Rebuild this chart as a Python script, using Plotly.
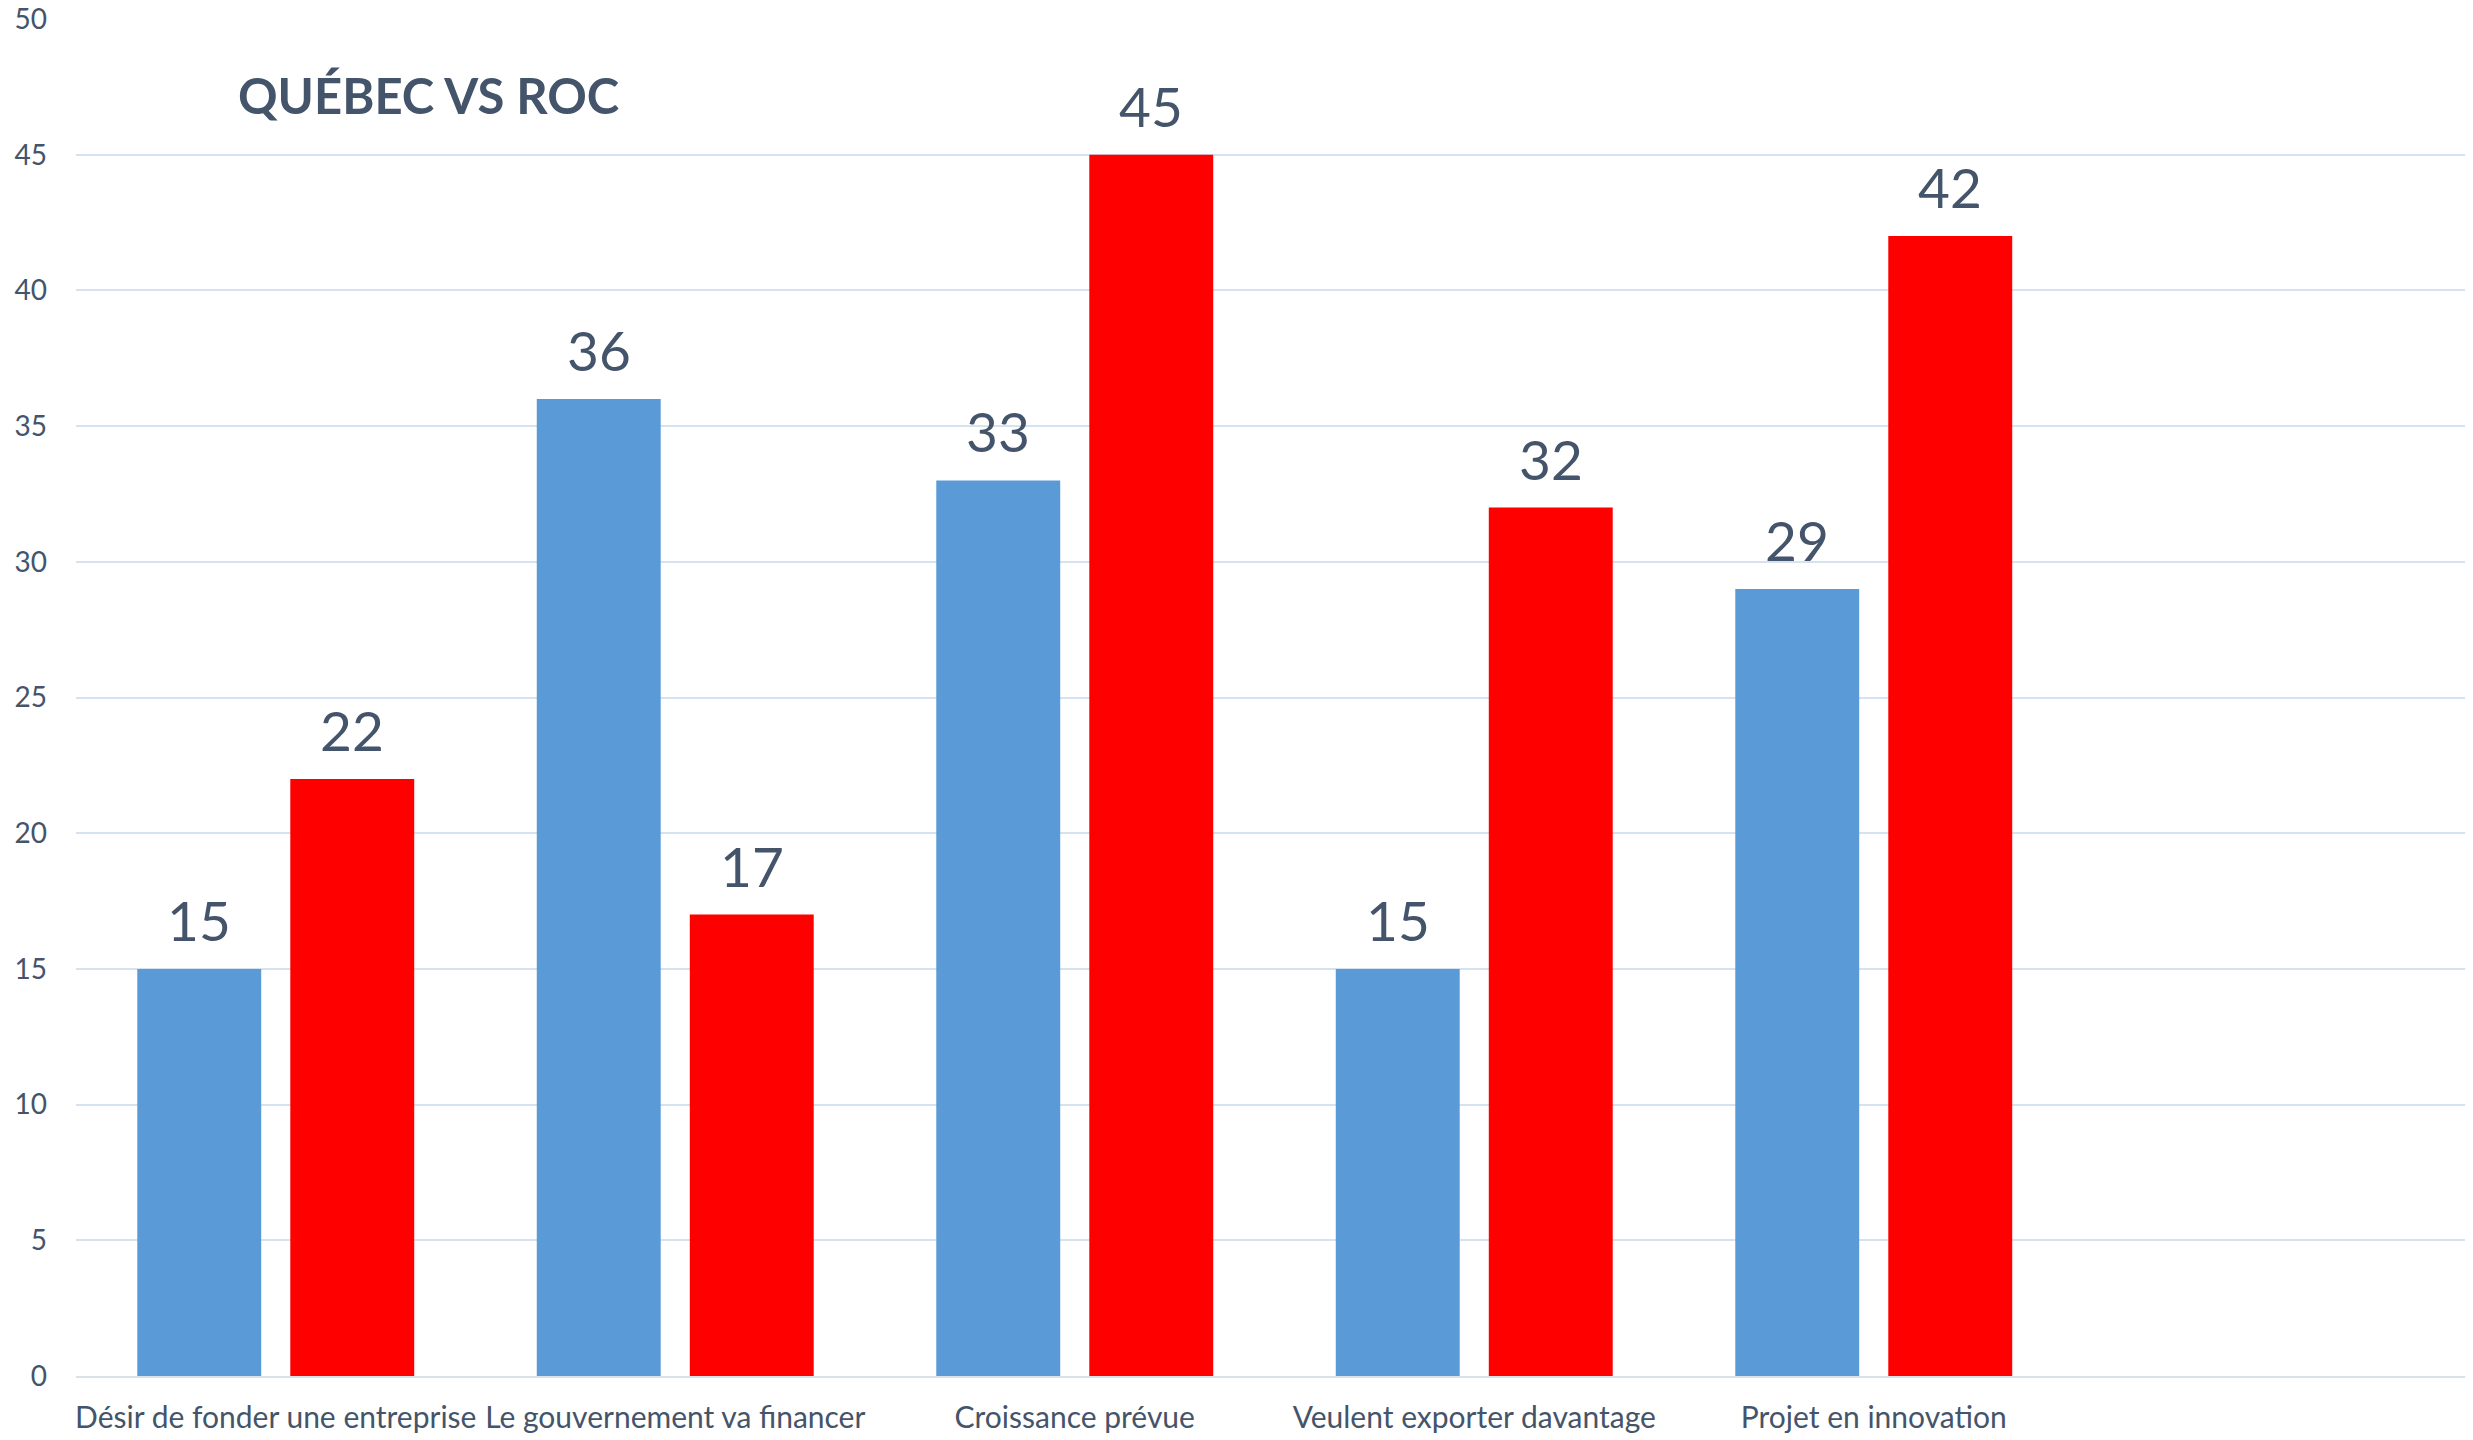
import plotly.graph_objects as go

categories = [
    "Désir de fonder une entreprise",
    "Le gouvernement va financer",
    "Croissance prévue",
    "Veulent exporter davantage",
    "Projet en innovation",
]
quebec = [15, 36, 33, 15, 29]
roc = [22, 17, 45, 32, 42]
y_ticks = [0, 5, 10, 15, 20, 25, 30, 35, 40, 45, 50]
title_text = "QUÉBEC VS ROC"

TEXT = "#44546a"
FONT = "Lato"
W, H = 2465, 1432          # page has an 8px body margin
BAR_OFFSET = 76.5          # px from category centre to each bar centre

fig = go.Figure()
fig.add_trace(go.Bar(
    x=categories, y=quebec, name="Québec",
    marker=dict(color="#5a9ad7", line=dict(width=0)),
))
fig.add_trace(go.Bar(
    x=categories, y=roc, name="ROC",
    marker=dict(color="#ff0000", line=dict(width=0)),
))

annotations = []
for series, shift in ((quebec, -BAR_OFFSET), (roc, BAR_OFFSET)):
    for cat, v in zip(categories, series):
        annotations.append(dict(
            x=cat, y=v, xref="x", yref="y", text=str(v), showarrow=False,
            xanchor="center", yanchor="bottom", xshift=shift, yshift=14,
            font=dict(family=FONT, size=55, color=TEXT),
        ))

fig.update_layout(
    width=W, height=H,
    margin=dict(l=68, r=0, t=11, b=64, autoexpand=False),
    paper_bgcolor="white", plot_bgcolor="white",
    barmode="group", bargap=0.234, bargroupgap=0.19,
    showlegend=False,
    font=dict(family=FONT, color=TEXT),
    annotations=annotations,
    title=dict(
        text="<b>" + title_text + "</b>",
        font=dict(family=FONT, size=49, color=TEXT),
        x=(238 - 8) / W, xanchor="left", xref="container",
        y=1 - (97 - 8) / H, yanchor="middle", yref="container",
    ),
)
fig.update_xaxes(
    type="category", range=[-0.5, 5.5], automargin=False,
    showgrid=False, showline=True, linecolor="#d9e1ea", linewidth=2,
    ticks="", tickfont=dict(family=FONT, size=30, color=TEXT),
    ticklabelstandoff=14, fixedrange=True,
)
fig.update_yaxes(
    range=[0, 50], tickvals=y_ticks, automargin=False,
    showgrid=True, gridcolor="#d5e3f1", gridwidth=2,
    zeroline=False, showline=False, ticks="",
    tickfont=dict(family=FONT, size=28, color=TEXT),
    ticklabelstandoff=28, ticklabeloverflow="allow", fixedrange=True,
)

fig.write_html("out.html")
